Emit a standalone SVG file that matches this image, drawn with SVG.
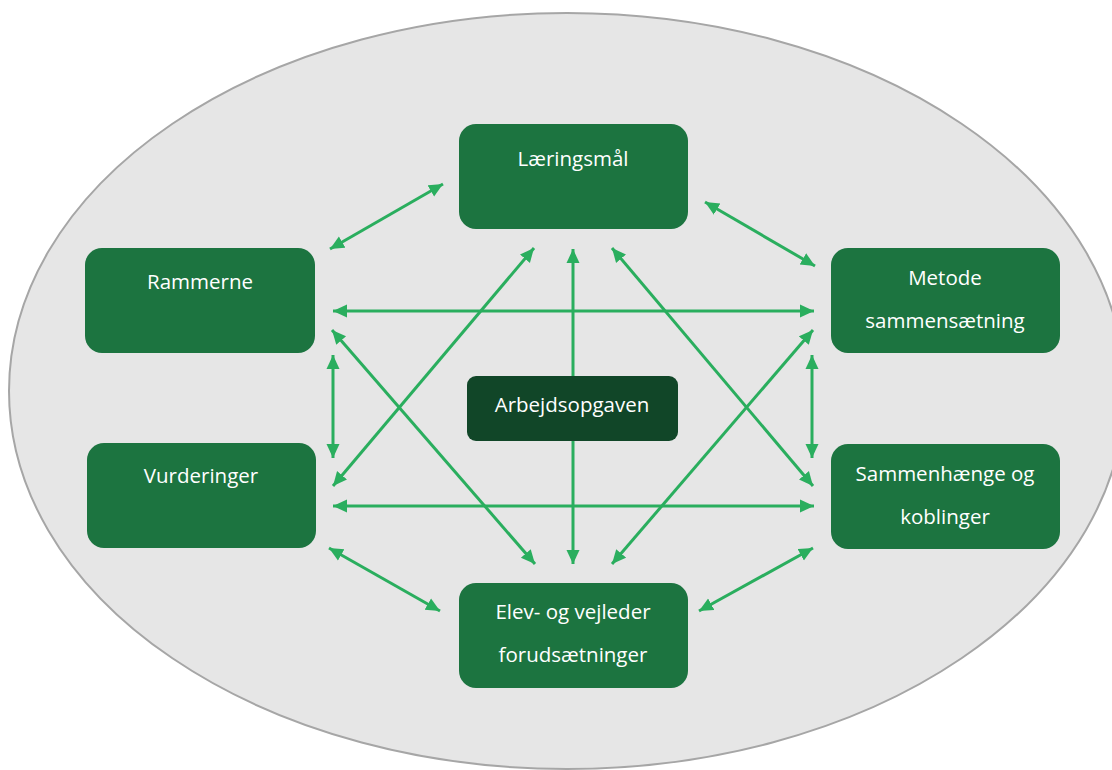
<svg xmlns="http://www.w3.org/2000/svg" width="1112" height="770" viewBox="0 0 1112 770">
<style>
.box{fill:#1c7440;}
.dark{fill:#114628;}
.lbl{font-family:"Open Sans","Noto Sans",sans-serif;font-size:20.5px;fill:#ffffff;text-anchor:middle;}
.con{stroke:#2aae5e;stroke-width:3;fill:none;marker-start:url(#ah);marker-end:url(#ah);}
</style>
<defs>
<marker id="ah" markerUnits="userSpaceOnUse" markerWidth="16" markerHeight="15" refX="14" refY="7" orient="auto-start-reverse" viewBox="0 0 16 15">
<path d="M0,0.5 L14,7 L0,13.5 z" fill="#2aae5e"/>
</marker>
</defs>
<rect width="1112" height="770" fill="#ffffff"/>
<ellipse id="background" cx="567" cy="391" rx="558" ry="378" fill="#e6e6e6" stroke="#a6a6a6" stroke-width="2"/>
<g id="connectors">
<line class="con" x1="443" y1="184" x2="330" y2="249"/>
<line class="con" x1="705" y1="202" x2="815" y2="266"/>
<line class="con" x1="333" y1="311" x2="814" y2="311"/>
<line class="con" x1="333" y1="506" x2="814" y2="506"/>
<line class="con" x1="333" y1="355" x2="333" y2="458"/>
<line class="con" x1="812" y1="355" x2="812" y2="458"/>
<line class="con" x1="329" y1="548" x2="440" y2="611"/>
<line class="con" x1="813" y1="548" x2="699" y2="611"/>
<line class="con" x1="573" y1="249" x2="573" y2="564"/>
<line class="con" x1="534" y1="248" x2="333" y2="486"/>
<line class="con" x1="612" y1="248" x2="813" y2="486"/>
<line class="con" x1="332" y1="330" x2="535" y2="564"/>
<line class="con" x1="813" y1="330" x2="612" y2="564"/>
</g>
<g id="laeringsmaal">
<rect class="box" x="459" y="124" width="229" height="105" rx="17"/>
<text class="lbl" x="573" y="166">Læringsmål</text>
</g>
<g id="rammerne">
<rect class="box" x="85" y="248" width="230" height="105" rx="17"/>
<text class="lbl" x="200" y="289">Rammerne</text>
</g>
<g id="metode">
<rect class="box" x="831" y="248" width="229" height="105" rx="17"/>
<text class="lbl" x="945" y="285">Metode</text>
<text class="lbl" x="945" y="328">sammensætning</text>
</g>
<g id="vurderinger">
<rect class="box" x="87" y="443" width="229" height="105" rx="17"/>
<text class="lbl" x="201" y="483">Vurderinger</text>
</g>
<g id="sammenhaenge">
<rect class="box" x="831" y="444" width="229" height="105" rx="17"/>
<text class="lbl" x="945" y="481">Sammenhænge og</text>
<text class="lbl" x="945" y="524">koblinger</text>
</g>
<g id="elev">
<rect class="box" x="459" y="583" width="229" height="105" rx="17"/>
<text class="lbl" x="573" y="619">Elev- og vejleder</text>
<text class="lbl" x="573" y="662">forudsætninger</text>
</g>
<g id="arbejdsopgaven">
<rect class="dark" x="467" y="376" width="211" height="65" rx="9"/>
<text class="lbl" x="572" y="412">Arbejdsopgaven</text>
</g>
</svg>
